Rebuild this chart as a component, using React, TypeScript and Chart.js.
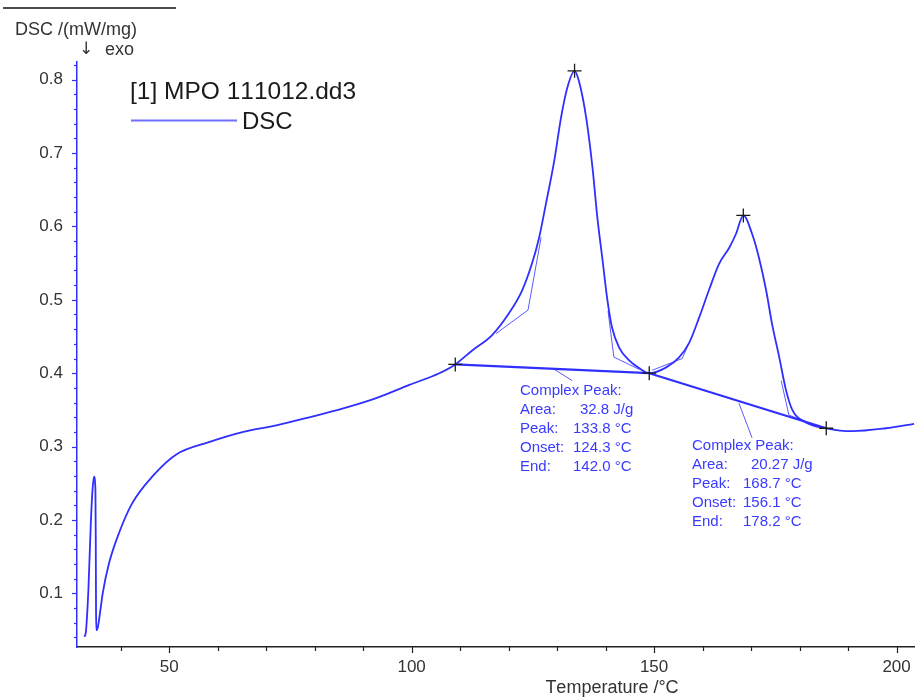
import React, { useEffect, useRef } from "react";
import { Chart, registerables } from "chart.js";

Chart.register(...registerables);

// ---- data ----
const tempC = [
  32.5, 32.8, 33.35, 33.85, 34.2, 34.5, 34.8, 34.87, 34.92, 34.97, 35.3, 35.9, 36.3, 37.6, 39.7, 42.4,
  46.5, 51.4, 58.2, 65.3, 72.1, 78.9, 85.9, 92.7, 99.5, 105.7, 109.0, 112.5, 116.6, 120.1,
  122.8, 124.8, 126.3, 127.7, 129.4, 130.8, 132.1, 133.6, 134.5, 136.0, 137.3, 138.3, 139.3, 140.3,
  141.3, 142.8, 144.8, 146.9, 149.0, 152.5, 155.2, 157.2, 159.3, 161.3, 163.4, 165.5, 166.9, 168.4,
  170.2, 171.6, 173.1, 174.3, 175.8, 177.2, 178.5, 181.3, 185.5, 190.8, 197.8, 203.6,
];
const dscMWmg = [
  0.041, 0.046, 0.105, 0.196, 0.241, 0.259, 0.241, 0.173, 0.081, 0.05, 0.054, 0.081, 0.1, 0.141, 0.183, 0.223,
  0.259, 0.289, 0.306, 0.32, 0.329, 0.34, 0.352, 0.366, 0.384, 0.4, 0.412, 0.431, 0.452, 0.482,
  0.513, 0.549, 0.585, 0.631, 0.689, 0.748, 0.789, 0.812, 0.798, 0.748, 0.68, 0.612, 0.558, 0.503,
  0.463, 0.435, 0.418, 0.407, 0.4, 0.408, 0.422, 0.441, 0.476, 0.513, 0.549, 0.571, 0.59, 0.615,
  0.59, 0.558, 0.513, 0.468, 0.422, 0.377, 0.35, 0.333, 0.325, 0.321, 0.325, 0.331,
];

// integration baselines
const baseline1T = [109.0, 149.0];
const baseline1Y = [0.412, 0.4];
const baseline2T = [149.0, 185.5];
const baseline2Y = [0.4, 0.325];

// thin tangent construction lines
const tangent1LT = [117.4, 124.0, 126.7];
const tangent1LY = [0.454, 0.486, 0.585];
const tangent1RT = [140.5, 141.7, 147.0];
const tangent1RY = [0.485, 0.422, 0.405];
const tangent2LT = [149.6, 155.8, 157.2];
const tangent2LY = [0.404, 0.42, 0.441];
const tangent2RT = [176.2, 177.8, 180.5];
const tangent2RY = [0.39, 0.343, 0.336];

// pointer lines from baseline to the result boxes
const pointer1T = [129.0, 133.1];
const pointer1Y = [0.407, 0.39];
const pointer2T = [167.5, 170.2];
const pointer2Y = [0.359, 0.312];

// marker crosses
const markerT = [109.0, 133.6, 149.0, 168.4, 185.5];
const markerY = [0.412, 0.812, 0.4, 0.615, 0.325];

// axes
const xMin = 31.0;
const xMax = 203.8;
const yMin = 0.027;
const yMax = 0.824;
const xMajorTicks = [50, 100, 150, 200];

// result boxes
const peak1Labels = ["Complex Peak:", "Area:", "Peak:", "Onset:", "End:"];
const peak1Values = ["", "32.8 J/g", "133.8 °C", "124.3 °C", "142.0 °C"];
const peak2Labels = ["Complex Peak:", "Area:", "Peak:", "Onset:", "End:"];
const peak2Values = ["", "20.27 J/g", "168.7 °C", "156.1 °C", "178.2 °C"];

const FONT = "'Liberation Sans', Arial, Helvetica, sans-serif";
const BLUE = "#2f2fff";
const THIN = "#5a5aff";

const pts = (xs: number[], ys: number[]) => xs.map((x, i) => ({ x, y: ys[i] }));

const decorPlugin = {
  id: "decor",
  afterDraw(chart: any) {
    const ctx = chart.ctx as CanvasRenderingContext2D;
    const xs = chart.scales.x;
    const ys = chart.scales.y;
    const area = chart.chartArea;
    ctx.save();
    (ctx as any).fontKerning = "none";

    // header rule
    ctx.strokeStyle = "#111";
    ctx.lineWidth = 1.5;
    ctx.beginPath();
    ctx.moveTo(3, 8);
    ctx.lineTo(176, 8);
    ctx.stroke();

    // y title
    ctx.fillStyle = "#333";
    ctx.font = `18px ${FONT}`;
    ctx.textBaseline = "middle";
    ctx.textAlign = "left";
    ctx.fillText("DSC /(mW/mg)", 15, 30);
    ctx.font = `17px 'DejaVu Sans', ${FONT}`;
    ctx.fillText("↓", 79, 50);
    ctx.font = `18px ${FONT}`;
    ctx.fillText("exo", 105, 50);

    // x title
    ctx.textAlign = "center";
    ctx.textBaseline = "alphabetic";
    ctx.fillText("Temperature /°C", 612, 693);

    // y ticks (blue, pointing left)
    ctx.strokeStyle = BLUE;
    ctx.lineWidth = 1.2;
    for (let k = 2; k <= 41; k++) {
      const v = k * 0.02;
      const py = Math.round(ys.getPixelForValue(v)) + 0.5;
      const major = k % 5 === 0;
      ctx.beginPath();
      ctx.moveTo(area.left - (major ? 5 : 3), py);
      ctx.lineTo(area.left, py);
      ctx.stroke();
    }
    // x ticks (dark, pointing down)
    ctx.strokeStyle = "#222";
    for (let t = 40; t <= 200; t += 10) {
      const px = Math.round(xs.getPixelForValue(t)) + 0.5;
      const major = t % 50 === 0;
      ctx.beginPath();
      ctx.moveTo(px, area.bottom);
      ctx.lineTo(px, area.bottom + (major ? 6 : 4));
      ctx.stroke();
    }

    // legend
    ctx.fillStyle = "#1a1a1a";
    ctx.textAlign = "left";
    ctx.textBaseline = "middle";
    ctx.font = `24.5px ${FONT}`;
    ctx.fillText("[1] MPO 111012.dd3", 130, 92);
    ctx.font = `24px ${FONT}`;
    ctx.fillText("DSC", 242, 122);
    ctx.strokeStyle = "#6f6fff";
    ctx.lineWidth = 2;
    ctx.beginPath();
    ctx.moveTo(131, 120.5);
    ctx.lineTo(237, 120.5);
    ctx.stroke();

    // result boxes
    ctx.fillStyle = "#3a3aff";
    ctx.font = `15px ${FONT}`;
    ctx.textBaseline = "middle";
    peak1Labels.forEach((s, i) => {
      const y = 391 + i * 19;
      ctx.fillText(s, 520, y);
      if (peak1Values[i]) ctx.fillText(peak1Values[i], i === 1 ? 580 : 573, y);
    });
    peak2Labels.forEach((s, i) => {
      const y = 445.5 + i * 19;
      ctx.fillText(s, 692, y);
      if (peak2Values[i]) ctx.fillText(peak2Values[i], i === 1 ? 751 : 743, y);
    });

    ctx.restore();
  },
};

export default function App() {
  const ref = useRef<HTMLCanvasElement | null>(null);
  useEffect(() => {
    if (!ref.current) return;
    const thin = (data: any) => ({
      data,
      borderColor: THIN,
      borderWidth: 1,
      pointRadius: 0,
      tension: 0,
      fill: false,
    });
    const chart = new Chart(ref.current, {
      type: "scatter",
      data: {
        datasets: [
          {
            data: pts(markerT, markerY),
            showLine: false,
            pointStyle: "cross",
            pointRadius: 7,
            pointBorderWidth: 1.3,
            pointBorderColor: "#1a1a1a",
            pointBackgroundColor: "#1a1a1a",
          } as any,
          {
            data: pts(tempC, dscMWmg),
            showLine: true,
            borderColor: BLUE,
            borderWidth: 1.8,
            pointRadius: 0,
            cubicInterpolationMode: "monotone",
            fill: false,
          },
          { data: pts(baseline1T, baseline1Y), showLine: true, borderColor: BLUE, borderWidth: 2.2, pointRadius: 0 },
          { data: pts(baseline2T, baseline2Y), showLine: true, borderColor: BLUE, borderWidth: 2.2, pointRadius: 0 },
          { ...thin(pts(tangent1LT, tangent1LY)), showLine: true },
          { ...thin(pts(tangent1RT, tangent1RY)), showLine: true },
          { ...thin(pts(tangent2LT, tangent2LY)), showLine: true },
          { ...thin(pts(tangent2RT, tangent2RY)), showLine: true },
          { ...thin(pts(pointer1T, pointer1Y)), showLine: true },
          { ...thin(pts(pointer2T, pointer2Y)), showLine: true },
        ] as any,
      },
      options: {
        animation: false,
        responsive: false,
        events: [],
        layout: { autoPadding: false, padding: { left: 0, right: 0, top: 62, bottom: 0 } },
        plugins: { legend: { display: false }, tooltip: { enabled: false } },
        scales: {
          x: {
            type: "linear",
            min: xMin,
            max: xMax,
            afterFit: (s: any) => {
              s.height = 51;
              s.paddingLeft = 0;
              s.paddingRight = 0;
            },
            afterBuildTicks: (s: any) => {
              s.ticks = xMajorTicks.map((v) => ({ value: v }));
            },
            grid: { display: false, drawTicks: false },
            border: { display: true, color: "#222", width: 1.5 },
            ticks: {
              padding: 0,
              color: "#333",
              maxRotation: 0,
              autoSkip: false,
              font: { family: FONT, size: 17, lineHeight: "40px" },
              callback: (v: any) => String(v),
            },
          },
          y: {
            type: "linear",
            min: yMin,
            max: yMax,
            afterFit: (s: any) => {
              s.width = 77;
              s.paddingTop = 0;
              s.paddingBottom = 0;
            },
            grid: { display: false, drawTicks: false },
            border: { display: true, color: BLUE, width: 1.5 },
            ticks: {
              stepSize: 0.1,
              includeBounds: false,
              padding: 14,
              color: "#333",
              font: { family: FONT, size: 17 },
              callback: (v: any) => Number(v).toFixed(1),
            },
          },
        },
      },
      plugins: [decorPlugin],
    });
    return () => chart.destroy();
  }, []);
  return (
    <div style={{ position: "fixed", left: 0, top: 0, width: 915, height: 698, background: "#fff" }}>
      <canvas ref={ref} width={915} height={698} style={{ display: "block" }} />
    </div>
  );
}
